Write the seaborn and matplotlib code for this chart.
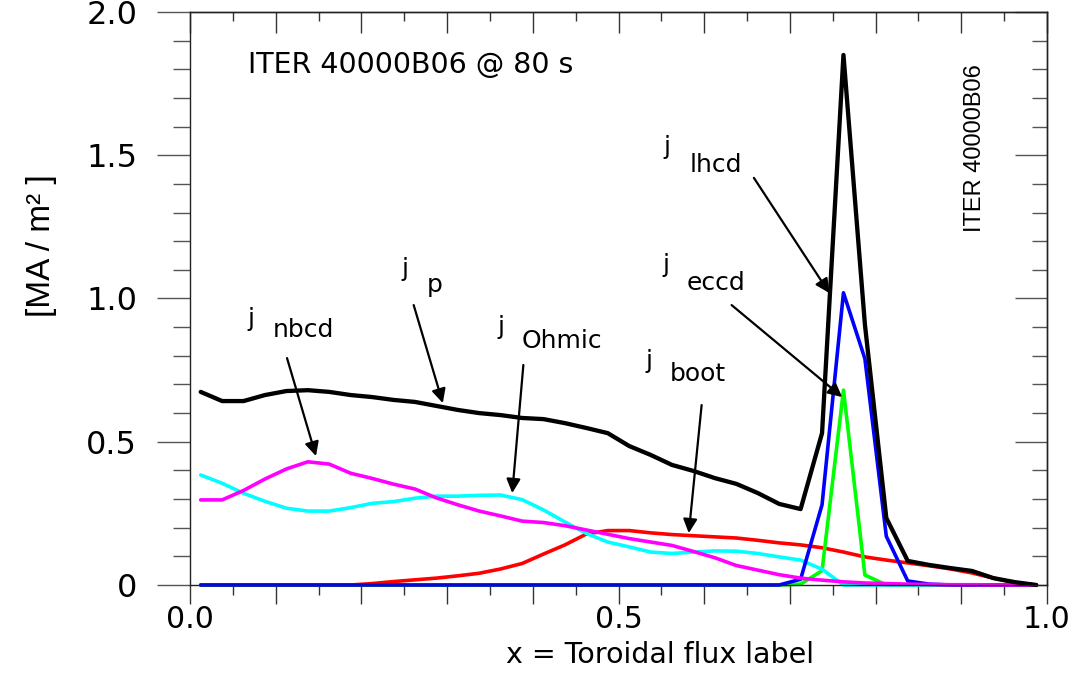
import numpy as np
import matplotlib
matplotlib.use("Agg")
import matplotlib.pyplot as plt
from matplotlib.ticker import MultipleLocator, FuncFormatter
import seaborn as sns

# radial grid (toroidal flux label)
rho = [0.0125, 0.0375, 0.0625, 0.0875, 0.1125, 0.1375, 0.1625, 0.1875, 0.2125, 0.2375,
       0.2625, 0.2875, 0.3125, 0.3375, 0.3625, 0.3875, 0.4125, 0.4375, 0.4625, 0.4875,
       0.5125, 0.5375, 0.5625, 0.5875, 0.6125, 0.6375, 0.6625, 0.6875, 0.7125, 0.7375,
       0.7625, 0.7875, 0.8125, 0.8375, 0.8625, 0.8875, 0.9125, 0.9375, 0.9625, 0.9875]

# current densities [MA/m2]
j_total = [0.674, 0.642, 0.642, 0.663, 0.677, 0.680, 0.674, 0.663, 0.656, 0.646,
           0.639, 0.625, 0.611, 0.600, 0.593, 0.583, 0.579, 0.565, 0.548, 0.530,
           0.485, 0.454, 0.419, 0.398, 0.373, 0.353, 0.321, 0.283, 0.265, 0.530,
           1.850, 0.910, 0.234, 0.084, 0.070, 0.059, 0.049, 0.024, 0.010, 0.000]
j_boot = [0.0, 0.0, 0.0, 0.0, 0.0, 0.0, 0.0, 0.0, 0.005, 0.012,
          0.018, 0.024, 0.032, 0.041, 0.056, 0.075, 0.108, 0.140, 0.178, 0.190,
          0.190, 0.182, 0.176, 0.172, 0.168, 0.164, 0.156, 0.147, 0.140, 0.130,
          0.115, 0.098, 0.087, 0.077, 0.067, 0.056, 0.042, 0.024, 0.008, 0.0]
j_eccd = [0.0] * 28 + [0.003, 0.050, 0.680, 0.035] + [0.0] * 8
j_lhcd = [0.0] * 27 + [0.0, 0.020, 0.280, 1.020, 0.790, 0.170, 0.014, 0.003] + [0.0] * 5
j_ohmic = [0.384, 0.355, 0.320, 0.292, 0.268, 0.258, 0.258, 0.270, 0.285, 0.291,
           0.303, 0.310, 0.310, 0.313, 0.314, 0.298, 0.262, 0.220, 0.180, 0.150,
           0.133, 0.115, 0.110, 0.115, 0.119, 0.118, 0.110, 0.098, 0.087, 0.055,
           0.0, 0.0, 0.0, 0.0, 0.0, 0.0, 0.0, 0.0, 0.0, 0.0]
j_nbcd = [0.297, 0.297, 0.330, 0.370, 0.405, 0.430, 0.422, 0.390, 0.372, 0.352,
          0.335, 0.304, 0.280, 0.258, 0.241, 0.223, 0.218, 0.207, 0.192, 0.177,
          0.162, 0.150, 0.138, 0.117, 0.095, 0.068, 0.052, 0.036, 0.024, 0.017,
          0.011, 0.007, 0.005, 0.003, 0.002, 0.001, 0.001, 0.0, 0.0, 0.0]

sns.set_theme(style="white")
plt.rcParams['font.family'] = ['DejaVu Sans']
plt.rcParams['text.color'] = 'black'
plt.rcParams['axes.labelcolor'] = 'black'
plt.rcParams['xtick.color'] = 'black'
plt.rcParams['ytick.color'] = 'black'
narrow = ['Liberation Sans']

fig = plt.figure(figsize=(10.83, 6.73), dpi=100)
ax = fig.add_axes([0.17544, 0.13076, 0.79132, 0.85141])

# curves, bottom to top
curves = [
    (j_boot, '#ff0000', 2.6),
    (j_eccd, '#00ff00', 2.6),
    (j_ohmic, '#00ffff', 2.6),
    (j_lhcd, '#0000ff', 2.6),
    (j_nbcd, '#ff00ff', 2.6),
    (j_total, '#000000', 3.1),
]
for i, (vals, col, lw) in enumerate(curves):
    sns.lineplot(x=rho, y=vals, color=col, lw=lw, ax=ax, estimator=None,
                 sort=False, zorder=2 + i * 0.1, clip_on=False)

ax.set_xlim(0, 1)
ax.set_ylim(0, 2)

# bottom / left ticks point outward
ax.xaxis.set_major_locator(MultipleLocator(0.1))
ax.xaxis.set_minor_locator(MultipleLocator(0.05))
ax.xaxis.set_major_formatter(FuncFormatter(
    lambda v, p: {0.0: '0.0', 0.5: '0.5', 1.0: '1.0'}.get(round(v, 2), '')))
ax.yaxis.set_major_locator(MultipleLocator(0.5))
ax.yaxis.set_minor_locator(MultipleLocator(0.1))
ax.yaxis.set_major_formatter(FuncFormatter(
    lambda v, p: '0' if abs(v) < 1e-9 else f'{v:.1f}'))
ax.tick_params(axis='x', which='both', bottom=True, top=False)
ax.tick_params(axis='y', which='both', left=True, right=False)
ax.tick_params(axis='x', which='major', direction='out', length=14, width=1,
               color='#333333', labelsize=21.5, pad=0.5)
ax.tick_params(axis='x', which='minor', direction='out', length=7, width=1,
               color='#333333')
ax.tick_params(axis='y', which='major', direction='out', length=24, width=1,
               color='#555555', labelsize=23, pad=14)
ax.tick_params(axis='y', which='minor', direction='out', length=12, width=1,
               color='#555555')

# top / right ticks point inward
top = ax.secondary_xaxis('top')
top.xaxis.set_major_locator(MultipleLocator(0.1))
top.xaxis.set_minor_locator(MultipleLocator(0.05))
top.tick_params(which='both', top=True)
top.tick_params(which='major', direction='in', length=15, width=1, color='#333333',
                labeltop=False)
top.tick_params(which='minor', direction='in', length=6.5, width=1, color='#333333')
right = ax.secondary_yaxis('right')
right.yaxis.set_major_locator(MultipleLocator(0.5))
right.yaxis.set_minor_locator(MultipleLocator(0.1))
right.tick_params(which='both', right=True)
right.tick_params(which='major', direction='in', length=23, width=1, color='#555555',
                  labelright=False)
right.tick_params(which='minor', direction='in', length=11, width=1, color='#555555')

for sp in ax.spines.values():
    sp.set_color('#222222')
    sp.set_linewidth(1.0)
for s in (top, right):
    for sp in s.spines.values():
        sp.set_color('#222222')
        sp.set_linewidth(1.0)

ax.set_xlabel('x = Toroidal flux label', fontsize=20.5)
ax.xaxis.set_label_coords(0.548, -0.097)
ax.set_ylabel('[MA / m² ]', fontsize=24, family=narrow)
ax.yaxis.set_label_coords(-0.155, 0.592)

ax.text(0.0677, 1.787, 'ITER 40000B06 @ 80 s', fontsize=20.5, ha='left', va='baseline')
ax.text(0.916, 1.525, 'ITER 40000B06', fontsize=17, family=narrow, rotation=90,
        ha='center', va='center')

# j labels: (j position, subscript position, subscript)
labels = [
    ((0.0665, 0.904), (0.0969, 0.866), 'nbcd'),
    ((0.247, 1.079), (0.2765, 1.023), 'p'),
    ((0.359, 0.876), (0.387, 0.827), 'Ohmic'),
    ((0.531, 0.757), (0.560, 0.712), 'boot'),
    ((0.552, 1.504), (0.583, 1.442), 'lhcd'),
    ((0.551, 1.092), (0.580, 1.030), 'eccd'),
]
for (jx, jy), (sx, sy), sub in labels:
    ax.text(jx, jy, 'j', fontsize=18, ha='left', va='baseline')
    ax.text(sx, sy, sub, fontsize=18, ha='left', va='baseline')

# arrows: (tail, tip)
arrows = [
    ((0.1132, 0.792), (0.147, 0.450)),
    ((0.261, 0.977), (0.295, 0.635)),
    ((0.389, 0.768), (0.376, 0.321)),
    ((0.597, 0.628), (0.582, 0.181)),
    ((0.658, 1.421), (0.746, 1.019)),
    ((0.632, 0.977), (0.761, 0.656)),
]
for tail, tip in arrows:
    ax.annotate('', xy=tip, xytext=tail,
                arrowprops=dict(arrowstyle='-|>,head_length=0.6,head_width=0.3',
                                color='black', lw=1.6, shrinkA=0, shrinkB=0,
                                mutation_scale=14),
                zorder=5)

fig.savefig('out.png', dpi=100)
